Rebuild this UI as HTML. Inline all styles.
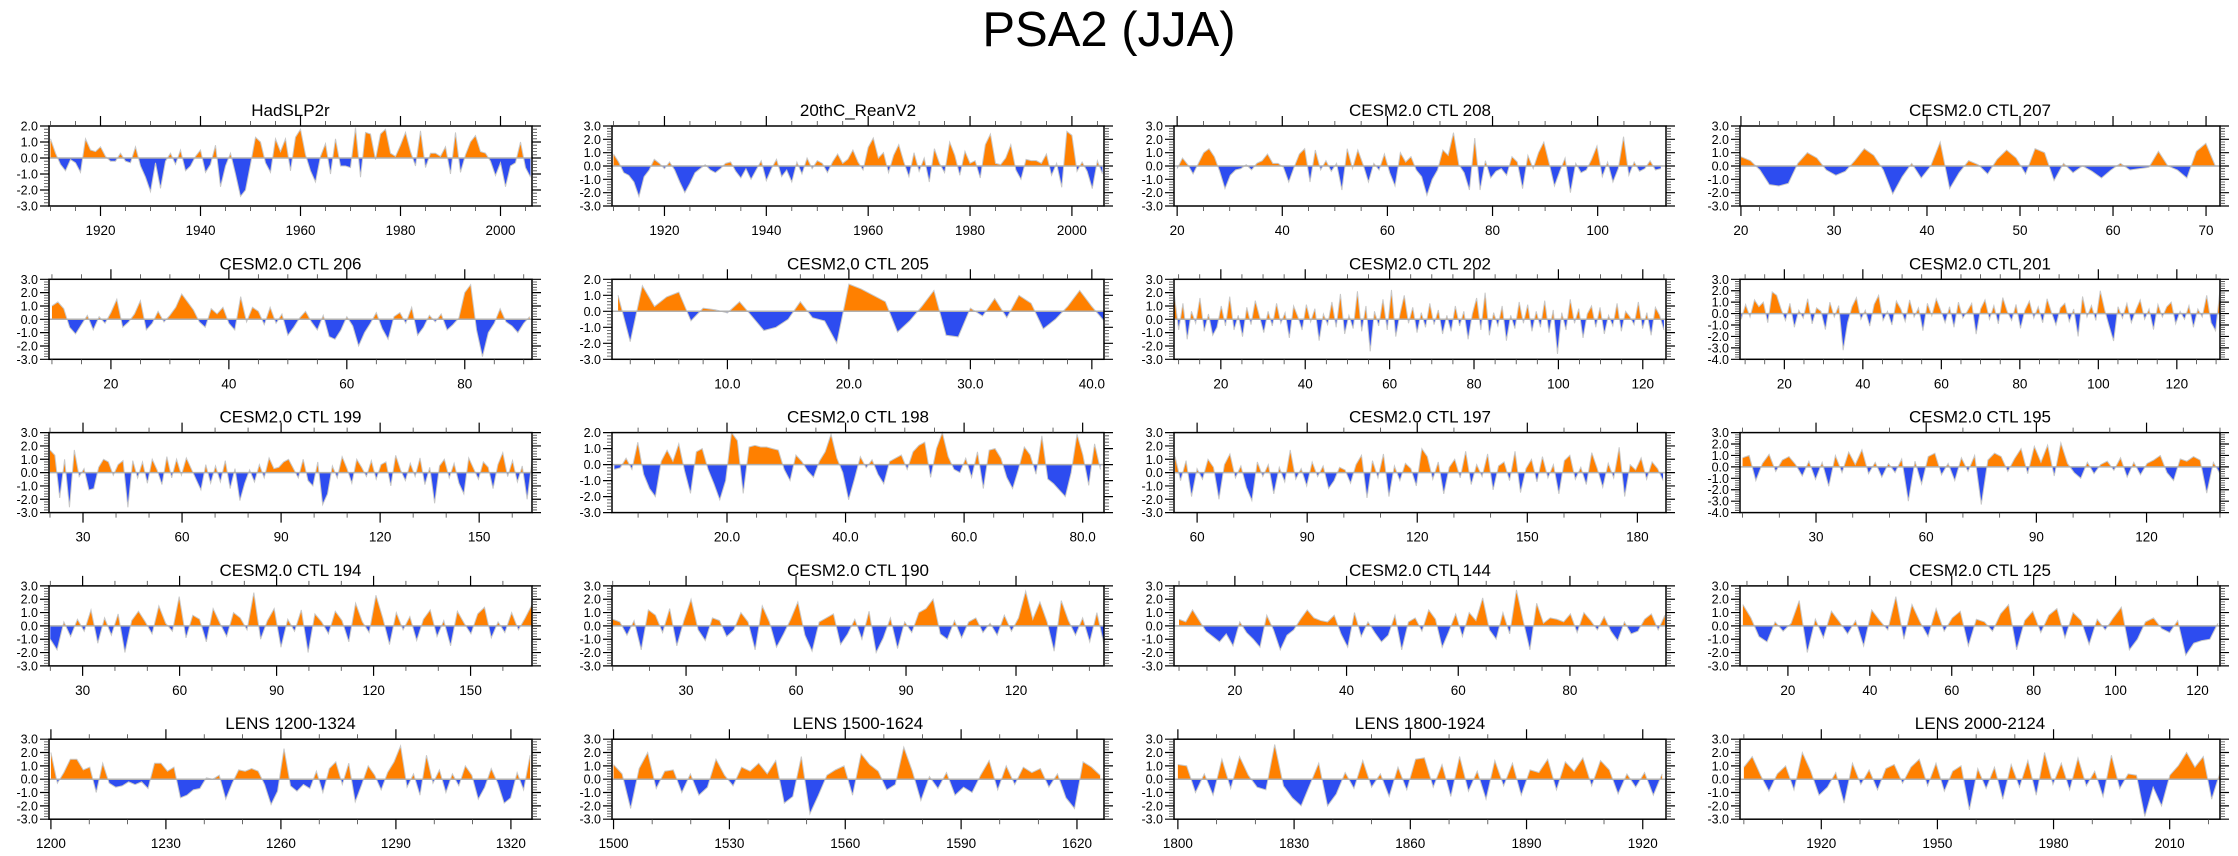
<!DOCTYPE html>
<html><head><meta charset="utf-8"><title>PSA2 (JJA)</title>
<style>
html,body{margin:0;padding:0;background:#fff;}
svg{display:block;font-family:"Liberation Sans",Arial,sans-serif;}
</style></head>
<body>
<svg id="chart" width="2238" height="856" viewBox="0 0 2238 856" xmlns="http://www.w3.org/2000/svg">
<text x="1109" y="46" font-size="49" text-anchor="middle" fill="#000">PSA2 (JJA)</text>
</svg>
<script>
// ---- data ----
const titles = ["HadSLP2r","20thC_ReanV2","CESM2.0 CTL 208","CESM2.0 CTL 207",
"CESM2.0 CTL 206","CESM2.0 CTL 205","CESM2.0 CTL 202","CESM2.0 CTL 201",
"CESM2.0 CTL 199","CESM2.0 CTL 198","CESM2.0 CTL 197","CESM2.0 CTL 195",
"CESM2.0 CTL 194","CESM2.0 CTL 190","CESM2.0 CTL 144","CESM2.0 CTL 125",
"LENS 1200-1324","LENS 1500-1624","LENS 1800-1924","LENS 2000-2124"];

const xAxisRanges = [[1909.7,2006.3],[1909.7,2006.3],[19.4,113],[19.9,71.5],
[9.5,91.4],[0.5,41],[8.9,125.5],[8.7,131],
[19.7,166],[0.6,83.6],[53.7,187.8],[9.3,140],
[19.6,169],[9.8,144],[9.1,97.2],[8.3,125.5],
[1199.5,1325.5],[1499.6,1627],[1799,1926],[1899,2023]];

const dataSpans = [[1910,2006],[1910,2006],[20,112],[20,71],
[10,91],[1,41],[9,125],[9,131],
[20,166],[1,83],[54,187],[10,140],
[20,169],[10,144],[10,97],[9,125],
[1200,1325],[1500,1626],[1800,1925],[1900,2023]];

const yAxisRanges = [[-3,2],[-3,3],[-3,3],[-3,3],
[-3,3],[-3,2],[-3,3],[-4,3],
[-3,3],[-3,2],[-3,3],[-4,3],
[-3,3],[-3,3],[-3,3],[-3,3],
[-3,3],[-3,3],[-3,3],[-3,3]];

const xMajorSteps = [20,20,20,10, 20,10,20,20, 30,20,30,30, 30,30,20,20, 30,30,30,30];
const xMinorSteps = [5,5,5,2, 5,2,5,5, 10,5,10,10, 10,10,5,5, 10,10,10,10];
const xLabelDecimals = [0,0,0,0, 0,1,0,0, 0,1,0,0, 0,0,0,0, 0,0,0,0];

const hadslp2r = [1.2,0.3,-0.4,-0.8,-0.1,-0.3,-0.9,1.2,0.5,0.4,0.7,0.1,-0.2,-0.2,0.3,-0.2,-0.3,0.7,-0.5,-1.2,-2.1,-0.3,-1.9,-0.2,0.3,-0.4,0.5,-0.8,-0.5,0.1,0.5,-0.9,-0.4,0.8,-1.8,-0.5,0.3,-1.0,-2.4,-2.0,-0.4,1.3,1.0,-0.3,-0.9,1.2,0.4,1.2,-0.8,1.3,1.8,0.2,-0.8,-1.5,0.1,0.9,-1.0,1.2,-0.5,-0.5,-0.6,1.9,-1.2,1.6,1.5,-0.1,1.5,1.8,0.3,0.1,0.8,1.6,0.4,-0.5,1.7,-0.6,0.3,0.3,0.1,0.7,-1.0,1.6,-0.9,0.2,1.0,1.4,0.4,0.3,-0.2,-1.1,-0.3,-1.8,-0.5,-0.3,1.0,-0.6,-1.2];
const reanV2 = [0.9,0.3,-0.5,-0.7,-1.2,-2.3,-0.8,-0.3,0.5,0.2,-0.2,0.3,-0.3,-1.2,-2.0,-1.3,-0.5,-0.2,0.1,-0.3,-0.5,-0.2,0.2,0.3,-0.4,-0.9,-0.2,-1.0,-0.3,0.4,-1.1,-0.2,0.5,-0.8,-0.3,-1.2,0.3,-0.6,0.6,-0.2,0.4,0.2,-0.5,0.3,0.9,0.2,0.5,1.2,0.3,-0.3,1.4,2.1,0.6,1.0,-0.5,0.8,1.6,0.3,-0.8,1.0,-0.4,0.6,-1.2,1.3,0.2,-0.5,1.8,0.8,-0.7,1.1,0.2,0.4,-0.9,1.6,2.4,0.2,0.1,0.6,1.6,-0.3,-1.0,0.5,0.4,0.4,0.2,0.9,-0.7,0.2,-1.6,2.6,2.3,-0.4,0.3,-0.4,-1.7,0.4,-0.6];
const ctl208 = [-0.2,0.6,0.1,-0.6,0.2,1.0,1.3,0.7,-0.4,-1.7,-0.7,-0.3,-0.2,0.1,-0.3,0.2,0.4,0.9,0.2,0.2,-0.1,-1.2,-0.1,0.9,1.3,-1.2,1.2,-0.3,0.4,-0.4,0.2,-1.8,1.3,-0.2,1.2,0.1,-1.2,0.2,-0.3,0.9,-0.5,-1.5,1.0,0.3,0.7,-0.3,-0.8,-2.2,-1.0,-0.3,1.2,0.8,2.5,0.1,-0.5,-1.8,2.1,-1.8,0.4,-0.9,-0.4,-0.2,-0.7,0.7,0.3,-1.7,0.8,-0.2,1.0,1.8,0.2,-1.5,-0.4,0.6,-2.0,0.2,-0.5,-0.3,0.5,1.5,-0.8,0.3,-1.2,-0.2,2.2,-0.7,0.3,-0.4,-0.2,0.4,-0.3,-0.2];
const ctl207 = [0.7,0.4,-0.3,-1.4,-1.5,-1.3,0.2,1.0,0.6,-0.3,-0.7,-0.4,0.4,1.3,0.8,-0.3,-2.1,-0.8,0.2,-0.9,0.0,1.8,-1.7,-0.5,0.4,0.1,-0.6,0.5,1.2,0.6,-0.6,1.3,1.0,-1.1,0.2,-0.5,0.0,-0.4,-0.9,-0.3,0.2,-0.3,-0.2,-0.1,1.1,0.0,-0.3,-0.9,1.1,1.7,0.0];
const ctl206 = [1.0,1.3,0.8,-0.6,-1.1,-0.4,0.3,-0.8,0.2,-0.3,0.5,1.5,-0.6,-0.2,0.4,1.4,-0.8,-0.3,0.6,-0.2,0.3,0.9,1.9,1.3,0.7,-0.2,-0.6,0.8,0.4,0.9,-0.3,-0.8,1.7,-0.2,0.9,0.6,-0.4,0.9,-0.3,0.4,-1.2,-0.6,0.1,0.6,-0.2,-0.8,0.3,-1.3,-1.5,-0.8,0.2,-0.5,-2.0,-1.0,-0.3,0.5,-0.7,-1.5,0.2,0.5,-0.3,0.9,-1.2,-0.6,0.3,-0.2,0.4,-0.8,-0.4,0.1,2.0,2.6,-0.8,-2.8,-1.0,-0.3,0.8,-0.2,-0.5,-1.0,-0.3,0.2];
const ctl205 = [1.0,-1.9,1.6,0.3,0.9,1.2,-0.6,0.2,0.1,-0.1,0.6,-0.3,-1.2,-1.0,-0.5,0.6,-0.4,-0.6,-2.0,1.7,1.4,1.0,0.6,-1.3,-0.6,0.3,1.3,-1.5,-1.6,0.2,-0.3,0.8,-0.4,1.0,0.5,-1.1,-0.5,0.3,1.3,0.3,-0.6];
const ctl202 = [1.8,-0.8,1.2,-1.5,0.6,-0.3,1.6,-0.9,0.4,-1.2,-0.6,1.0,-0.5,1.7,-0.8,0.3,-1.3,0.9,-0.4,1.4,0.2,-1.0,0.6,-0.5,1.2,-0.3,0.5,-1.4,1.0,0.2,-0.8,1.1,-0.2,0.8,-1.6,0.4,-0.4,1.3,-0.6,1.9,-1.1,0.3,-0.7,2.1,-0.9,1.0,-2.4,0.6,-0.5,1.5,-0.8,2.2,-1.3,0.4,1.8,-0.3,0.9,-1.0,0.5,-0.6,1.2,-0.4,0.7,-1.1,0.3,-0.9,1.0,-0.5,0.6,-1.5,0.4,1.6,-0.8,2.0,-1.2,0.5,-0.5,1.0,-1.6,0.3,-0.7,1.3,-0.3,1.1,-0.9,0.6,-0.6,1.4,-1.0,0.7,-2.6,0.5,-0.8,1.5,-0.3,0.8,-1.4,0.4,1.0,-0.6,0.9,-1.1,0.3,-0.5,1.2,-0.9,0.6,0.2,-0.4,1.3,-0.7,0.5,-1.2,0.9,0.3,-0.8];
const ctl201 = [-0.5,0.8,-0.3,1.2,0.6,1.0,-0.8,1.9,1.6,0.4,-0.6,0.9,-1.2,0.3,-0.4,1.3,-0.9,0.5,0.2,-1.4,1.0,-0.3,0.7,-3.2,-0.8,0.6,1.4,-0.5,0.3,-1.1,0.8,1.6,-0.6,0.2,-1.0,1.1,0.4,-0.7,1.2,-0.3,0.5,-1.5,0.9,-0.2,1.3,0.3,-0.8,0.6,-1.2,1.0,-0.4,0.2,0.9,-1.8,0.4,1.2,-0.5,0.7,-0.9,1.4,0.2,-0.6,0.8,-1.3,0.3,1.1,-0.4,0.6,-0.8,1.3,0.1,-1.0,0.5,0.9,-0.7,0.4,-2.0,1.5,-0.3,0.7,-0.6,2.0,0.3,-1.1,-2.4,0.6,-0.4,0.9,-0.8,0.3,1.2,-0.5,0.4,-1.4,0.8,-0.3,0.6,1.0,-0.9,0.2,-0.5,0.7,-1.2,0.4,-0.3,1.6,-0.8,-1.5,2.1];
const ctl199 = [1.7,1.3,-1.9,1.0,-2.6,1.7,-0.3,0.3,-1.3,-1.2,0.4,1.0,0.8,-0.2,0.6,0.9,-2.6,0.9,-0.4,0.8,-0.8,1.0,0.2,-0.9,1.2,-0.4,1.0,-0.2,1.1,0.3,-0.5,-1.3,0.6,-0.8,0.5,-0.7,0.9,-1.2,0.3,-2.1,-0.8,0.2,-0.7,0.6,-0.4,1.1,0.3,0.4,0.8,1.0,0.3,-0.4,1.0,-0.6,-1.0,0.8,-2.4,-1.6,0.5,-0.4,1.2,0.3,-0.8,1.0,0.4,-0.3,0.9,-0.5,0.6,0.8,-1.0,1.3,0.2,-0.6,0.7,-0.3,1.1,-0.9,0.4,-2.3,0.5,1.0,-0.4,0.7,-0.8,-1.6,1.1,0.3,-0.5,0.8,0.4,-1.2,0.6,1.5,-0.3,0.9,-0.7,0.5,-2.0,0.8];
const ctl198 = [-0.3,-0.2,0.4,-0.3,1.4,-0.6,-1.5,-2.0,0.2,0.9,0.2,1.3,-0.4,-1.8,0.8,1.0,-0.3,-1.2,-2.2,-1.0,2.0,1.5,-1.8,1.1,1.2,1.1,1.1,1.0,0.9,-0.3,-1.0,0.6,0.2,-0.4,-0.8,0.2,0.8,1.9,0.4,-0.5,-2.2,-0.9,0.5,-0.2,0.3,-0.6,-1.2,0.2,0.4,0.6,-0.3,0.8,1.2,1.4,-0.8,1.0,2.0,0.5,-0.3,-0.5,0.4,-0.8,0.8,-1.5,0.9,1.0,0.4,-0.8,-1.5,-0.3,1.1,0.6,-0.6,1.8,-0.9,-1.2,-1.6,-2.0,-0.5,1.9,0.6,-1.3,1.3,-0.3];
const ctl197 = [1.2,-0.6,0.9,-1.8,0.3,-0.5,1.0,0.4,-2.0,0.6,1.4,-0.4,0.5,-1.1,-2.1,0.8,-0.3,0.6,-1.6,0.4,-0.7,1.7,-0.5,0.3,-1.0,0.8,-0.3,0.5,-1.2,-0.6,0.4,0.2,-0.8,0.6,1.3,-1.9,0.9,-0.4,1.4,-1.8,0.5,-0.6,0.7,0.3,-1.0,1.8,1.2,-0.5,0.8,-1.6,0.4,1.0,-0.4,1.6,-0.9,0.6,-0.3,1.4,-1.3,0.5,0.8,-0.6,1.6,-1.5,0.3,1.0,-0.7,1.2,-0.4,0.6,-1.6,0.9,1.3,-0.5,0.4,-0.9,1.5,0.3,-1.1,0.7,-0.4,1.9,-1.8,0.6,0.2,1.1,-0.5,0.8,0.3,-0.6];
const ctl195 = [0.8,1.0,-1.2,0.3,1.1,-0.4,0.6,0.9,0.2,-0.8,0.5,-1.1,0.4,-1.7,1.0,-0.5,1.3,0.2,1.5,-0.6,0.4,-0.9,0.3,-0.5,0.7,-3.0,0.5,-1.5,0.9,1.2,-0.7,0.3,-1.2,0.8,-0.4,1.0,-3.3,0.6,1.2,0.9,-0.4,0.7,1.6,-0.6,1.8,0.4,1.9,-0.8,2.1,0.3,-0.5,-1.0,0.4,-0.6,0.2,0.5,-0.3,0.8,-0.9,0.4,-0.7,0.3,0.6,1.0,-0.5,-1.2,0.7,0.5,0.9,0.6,-2.3,0.4,-0.6];
const ctl194 = [-1.0,-1.8,0.3,-0.8,0.5,-0.4,1.2,-1.3,0.6,-0.7,0.9,-2.0,0.4,1.1,0.3,-0.6,1.5,0.2,-0.4,2.2,-0.9,0.8,0.5,-1.2,1.3,0.2,-0.8,1.0,0.6,-0.3,2.5,-1.0,0.4,1.3,-1.6,0.5,-0.4,1.2,-2.0,0.9,0.3,-0.6,1.1,0.4,-1.2,1.7,0.3,-0.5,2.3,0.6,-1.4,1.0,-0.3,0.7,-1.1,0.5,1.2,-0.8,0.4,-1.5,1.1,0.2,-0.6,0.9,1.4,-0.9,0.3,-0.5,1.0,-0.3,0.6,1.6];
const ctl190 = [0.5,0.3,-0.7,0.4,-1.8,1.2,0.8,-0.5,1.3,-1.5,0.4,2.0,-0.3,-1.1,0.6,0.4,-0.8,-0.3,1.0,0.3,-1.8,1.5,0.3,-1.6,-0.6,0.5,1.8,-0.7,-1.9,0.3,0.6,0.9,-1.4,-0.6,0.5,-1.0,1.1,-2.0,-0.9,0.6,-1.7,0.3,-0.5,1.0,1.3,2.0,-0.6,-1.0,0.4,-0.9,0.3,0.6,-0.5,0.2,-0.7,0.8,-0.4,0.6,2.6,0.5,1.8,0.3,-1.9,1.9,0.4,-0.7,0.6,-1.2,1.0,-1.4];
const ctl144 = [0.5,0.3,1.2,0.4,-0.4,-0.8,-1.2,-0.6,-1.5,0.3,-0.5,-1.0,-1.6,0.8,-0.3,-1.8,-0.7,-0.3,0.5,1.2,0.6,0.4,0.3,0.8,-0.6,-1.6,1.0,-0.8,0.3,-0.5,-1.2,-0.7,0.8,-1.8,0.3,0.6,-0.4,1.2,0.5,-1.6,-0.4,0.9,-0.8,1.0,0.4,2.1,-0.3,-1.0,1.0,-0.6,2.7,0.4,-1.8,1.7,0.2,0.6,0.5,0.3,0.9,-0.5,1.0,0.4,-0.3,0.7,-0.4,-1.1,0.3,-0.6,-0.4,0.5,0.9,-0.3,0.8];
const ctl125 = [1.6,0.6,-0.8,-1.2,0.3,-0.4,0.2,1.9,-2.0,0.5,-0.9,1.1,0.3,-0.6,0.4,-1.5,1.2,0.4,-0.3,2.2,-1.0,1.6,0.3,-0.8,1.3,-0.4,0.6,1.1,-1.5,0.5,0.3,-0.4,0.9,1.6,-1.8,0.4,1.1,-0.5,0.8,1.3,-0.9,1.0,0.4,-1.4,0.5,-0.3,0.6,1.4,-1.8,-1.0,0.3,0.6,-0.2,-0.5,0.4,-2.2,-1.3,-1.1,-1.0,0.2];
const lens1200 = [2.0,-0.3,0.5,1.5,1.5,0.7,0.9,-1.0,1.2,-0.3,-0.6,-0.5,-0.2,-0.4,-0.2,-0.7,1.2,1.2,0.6,0.9,-1.4,-1.2,-0.8,-0.7,0.1,0.0,0.3,-1.5,-0.3,0.7,0.6,0.8,0.6,-0.4,-1.9,-0.9,2.3,-0.5,-0.9,-0.4,-0.7,0.6,-1.0,0.8,1.3,-0.4,1.2,-1.7,-0.4,1.0,0.3,-0.8,0.5,1.3,2.5,-0.6,0.4,-1.2,1.8,-0.3,0.7,-1.0,0.4,-0.5,1.0,0.3,-1.5,-0.6,0.8,-0.3,-1.8,-1.4,0.5,-0.8,1.8];
const lens1500 = [1.1,0.4,-2.2,0.8,2.0,-0.7,0.6,0.7,-1.0,0.4,-1.2,-0.6,1.5,0.3,-0.5,0.9,0.6,1.2,0.4,1.4,-1.8,-1.3,1.7,-2.6,-1.2,0.3,0.7,1.0,-1.2,1.9,1.1,0.6,-0.8,-0.4,2.4,0.6,-1.6,0.2,-0.7,0.5,-1.2,-0.6,-1.0,0.3,1.4,-0.8,1.0,-0.4,0.9,0.5,0.8,-0.6,0.4,-1.4,-2.2,1.3,0.9,0.3];
const lens1800 = [1.1,1.0,-1.0,0.4,-1.2,1.5,-0.7,1.7,0.3,-0.6,-0.8,2.6,-0.5,-1.4,-2.0,-0.4,1.2,-2.0,-1.1,0.5,-0.7,1.4,-0.6,0.4,-1.3,0.9,-0.8,1.5,1.6,-0.6,1.1,-1.3,1.7,-0.9,0.6,-1.5,1.4,-0.5,1.2,-1.2,0.7,0.5,1.5,-0.8,1.3,0.6,1.6,-0.5,1.4,0.7,-1.1,0.4,-0.6,0.5,-1.2,0.4];
const lens2000 = [0.9,1.7,0.3,-0.9,0.4,1.0,-0.8,2.0,0.6,-1.2,-0.6,0.5,-1.8,1.2,-0.4,0.7,-0.8,0.8,1.1,-0.3,0.9,1.5,-0.5,1.2,-0.9,0.6,1.0,-2.3,0.8,-0.7,0.9,-1.5,1.1,-0.6,1.4,-1.2,2.0,-0.4,1.2,-0.8,1.6,-0.5,0.6,-1.3,1.8,-0.7,0.4,0.3,-2.8,-0.6,-2.0,0.3,1.0,2.0,0.9,1.7,-1.5,0.5];

const seriesList = [hadslp2r,reanV2,ctl208,ctl207,ctl206,ctl205,ctl202,ctl201,ctl199,ctl198,ctl197,ctl195,ctl194,ctl190,ctl144,ctl125,lens1200,lens1500,lens1800,lens2000];

// ---- layout ----
const NS = "http://www.w3.org/2000/svg";
const svg = document.getElementById('chart');
const colLeft = [49,612,1174,1740];
const colWidth = [483,492,492,480];
const rowTop0 = 126, rowStep = 153.3, plotH = 80;
const ORANGE = "#ff8000", BLUE = "#2d4cf0";

function mk(tag, attrs, parent){
  const e = document.createElementNS(NS, tag);
  for (const k in attrs) e.setAttribute(k, attrs[k]);
  (parent||svg).appendChild(e);
  return e;
}

function niceTicks(a, b, step){
  const out = [];
  const s = Math.ceil(a/step - 1e-9);
  for (let k = s; k*step <= b + 1e-9; k++) out.push(+(k*step).toFixed(6));
  return out;
}

for (let p = 0; p < 20; p++){
  const col = p % 4, row = Math.floor(p/4);
  const L = colLeft[col], W = colWidth[col], T = rowTop0 + row*rowStep, H = plotH;
  const [xmin, xmax] = xAxisRanges[p];
  const [ymin, ymax] = yAxisRanges[p];
  const xs = v => L + (v - xmin)/(xmax - xmin)*W;
  const ys = v => T + (ymax - v)/(ymax - ymin)*H;
  const g = mk('g', {});
  
  

  const vals = seriesList[p];
  const [d0, d1] = dataSpans[p];
  const pts = vals.map((v,i) => [d0 + i*(d1-d0)/(vals.length-1), v]);
  const full = [];
  for (let i = 0; i < pts.length; i++){
    full.push(pts[i]);
    if (i < pts.length-1){
      const [xa,a] = pts[i], [xb,b] = pts[i+1];
      if ((a > 0 && b < 0) || (a < 0 && b > 0)){
        const t = a/(a-b);
        full.push([xa + t*(xb-xa), 0]);
      }
    }
  }
  const y0 = ys(0);
  function area(sign){
    let d = 'M' + xs(full[0][0]).toFixed(2) + ',' + y0.toFixed(2);
    for (const [x,v] of full){
      const c = sign > 0 ? Math.max(v,0) : Math.min(v,0);
      d += 'L' + xs(x).toFixed(2) + ',' + ys(c).toFixed(2);
    }
    d += 'L' + xs(full[full.length-1][0]).toFixed(2) + ',' + y0.toFixed(2) + 'Z';
    return d;
  }
  const pos = mk('path', {d: area(1), fill: ORANGE, stroke: 'none'}, g);
  
  
  const neg = mk('path', {d: area(-1), fill: BLUE, stroke: 'none'}, g);
  
  
  const line = mk('polyline', {points: pts.map(([x,v]) => xs(x).toFixed(2)+','+ys(v).toFixed(2)).join(' '), fill:'none', stroke:'#c8c8c8', 'stroke-width':1}, g);
  
  
  const zl = mk('line', {x1:L, x2:L+W, y1:y0, y2:y0, stroke:'#b0b0b0', 'stroke-width':1.5}, g);
  
  

  const fr = mk('rect', {x:L, y:T, width:W, height:H, fill:'none', stroke:'#000', 'stroke-width':1.5}, g);
  
  

  let tkMaj = '', tkMin = '';
  for (const v of niceTicks(ymin, ymax, 0.2)){
    const y = ys(v);
    const major = Math.abs(v - Math.round(v)) < 1e-6;
    if (major) tkMaj += `M${L},${y}h-9M${L+W},${y}h9`;
    else tkMin += `M${L},${y}h-5M${L+W},${y}h5`;
  }
  for (const v of niceTicks(xmin, xmax, xMinorSteps[p])){
    const x = xs(v);
    const major = Math.abs(v/xMajorSteps[p] - Math.round(v/xMajorSteps[p])) < 1e-6;
    if (major) tkMaj += `M${x},${T+H}v10M${x},${T}v-10`;
    else tkMin += `M${x},${T+H}v5M${x},${T}v-5`;
  }
  const ticks = mk('path', {d: tkMaj, stroke:'#000', 'stroke-width':1.2, fill:'none'}, g);
  
  
  const mticks = mk('path', {d: tkMin, stroke:'#444', 'stroke-width':0.8, fill:'none'}, g);
  
  

  for (const v of niceTicks(ymin, ymax, 1)){
    const t = mk('text', {x: L-11, y: ys(v)+4.5, 'font-size': 12.5, 'text-anchor':'end', fill:'#000'}, g);
    
    
    t.textContent = v.toFixed(1);
  }
  for (const v of niceTicks(xmin, xmax, xMajorSteps[p])){
    const t = mk('text', {x: xs(v), y: T+H+29, 'font-size': 13.5, 'text-anchor':'middle', fill:'#000'}, g);
    
    
    t.textContent = v.toFixed(xLabelDecimals[p]);
  }
  const tt = mk('text', {x: L+W/2, y: T-10, 'font-size': 17, 'text-anchor':'middle', fill:'#000'}, g);
  
  
  tt.textContent = titles[p];
}
</script>
</body></html>
